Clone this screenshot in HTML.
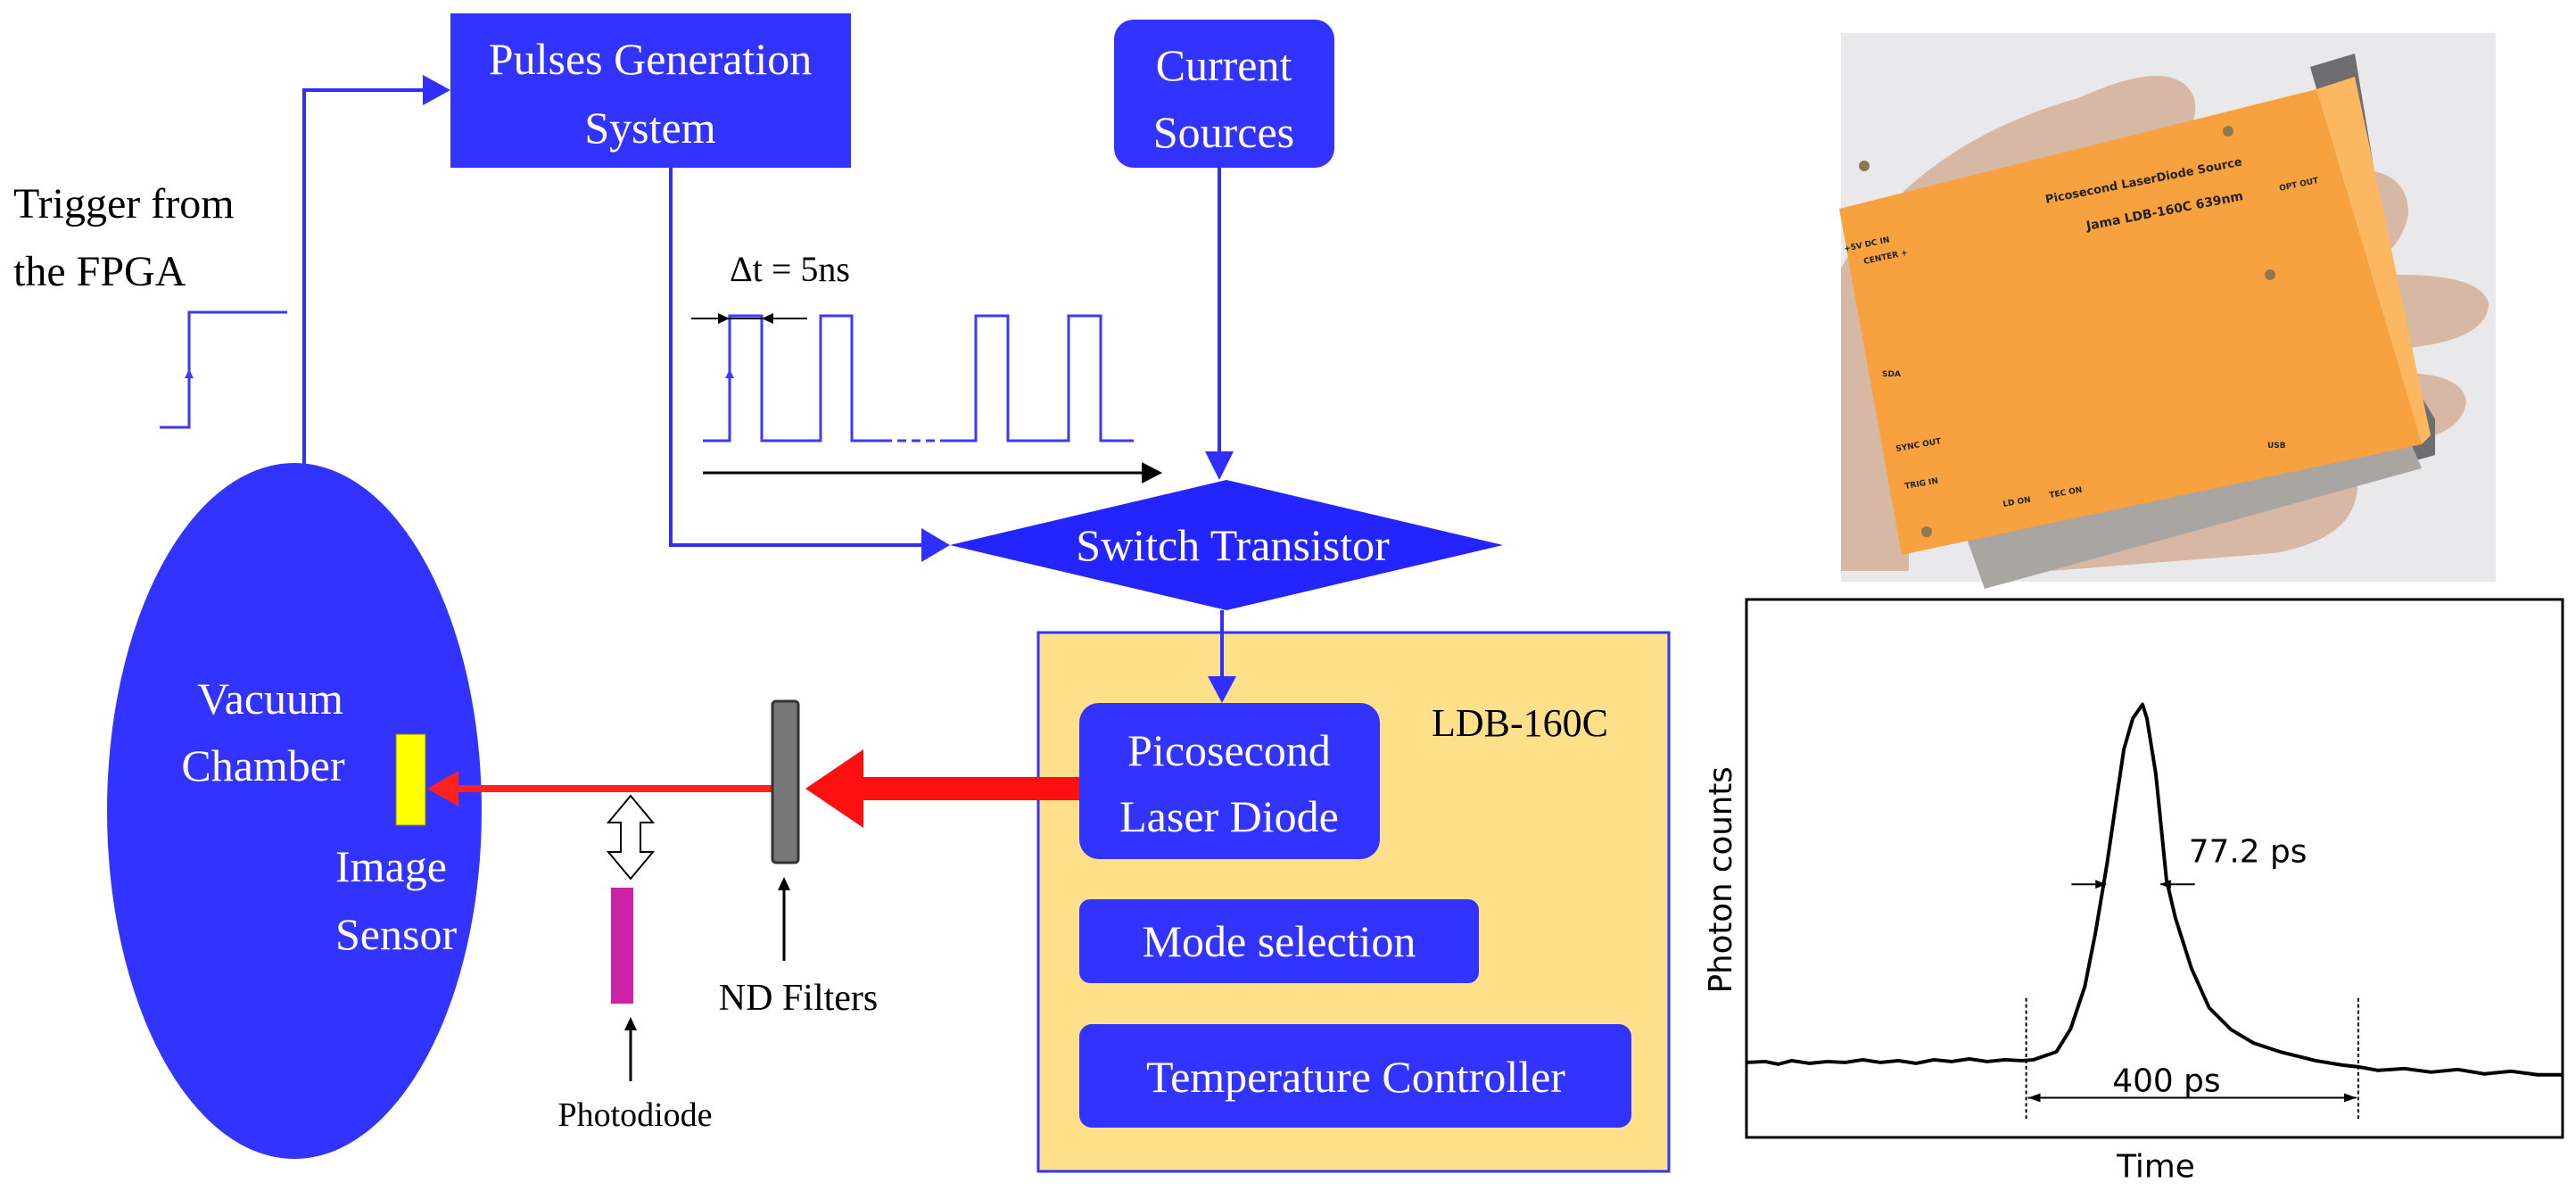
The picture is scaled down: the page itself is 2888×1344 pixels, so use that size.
<!DOCTYPE html>
<html><head><meta charset="utf-8"><style>
html,body{margin:0;padding:0;background:#fff;}
svg{display:block;}
.t{font-family:"Liberation Serif",serif;}
.s{font-family:"DejaVu Sans","Liberation Sans",sans-serif;}
</style></head><body>
<svg width="2888" height="1344" viewBox="0 0 2888 1344" xmlns="http://www.w3.org/2000/svg">
<polyline points="341,525 341,101 480,101" fill="none" stroke="#2f2fff" stroke-width="4"/>
<path d="M474,84 L505,101 L474,118 z" fill="#2f2fff"/>
<rect x="505" y="15" width="449" height="173" fill="#3333ff"/>
<text x="729" y="83" class="t" font-size="50" fill="#fff" text-anchor="middle">Pulses Generation</text>
<text x="729" y="160" class="t" font-size="50" fill="#fff" text-anchor="middle">System</text>
<rect x="1249" y="22" width="247" height="166" rx="22" fill="#3333ff"/>
<text x="1372" y="90" class="t" font-size="50" fill="#fff" text-anchor="middle">Current</text>
<text x="1372" y="165" class="t" font-size="50" fill="#fff" text-anchor="middle">Sources</text>
<text x="15" y="244" class="t" font-size="48" fill="#000">Trigger from</text>
<text x="15" y="320" class="t" font-size="48" fill="#000">the FPGA</text>
<polyline points="179,479 212,479 212,350 322,350" fill="none" stroke="#3a3aff" stroke-width="3"/>
<path d="M207,424 L212,414 L217,424z" fill="#3a3aff"/>
<polyline points="752,188 752,611 1035,611" fill="none" stroke="#2f2fff" stroke-width="4"/>
<path d="M1033,592 L1065,611 L1033,630 z" fill="#2f2fff"/>
<line x1="1367" y1="188" x2="1367" y2="508" stroke="#2f2fff" stroke-width="4"/>
<path d="M1351,506 L1367,538 L1383,506 z" fill="#2f2fff"/>
<polyline points="788,494 818,494 818,354 854,354 854,494 920,494 920,354 955,354 955,494 990,494" fill="none" stroke="#3a3aff" stroke-width="3"/>
<line x1="990" y1="494" x2="1055" y2="494" stroke="#3a3aff" stroke-width="3" stroke-dasharray="10,6"/>
<polyline points="1055,494 1094,494 1094,354 1130,354 1130,494 1198,494 1198,354 1234,354 1234,494 1271,494" fill="none" stroke="#3a3aff" stroke-width="3"/>
<path d="M813,424 L818,414 L823,424z" fill="#3a3aff"/>
<text x="818" y="315" class="t" font-size="40" fill="#000">Δt = 5ns</text>
<line x1="775" y1="357" x2="905" y2="357" stroke="#000" stroke-width="2"/>
<path d="M805,351 L818,357 L805,363z" fill="#000"/>
<path d="M867,351 L854,357 L867,363z" fill="#000"/>
<line x1="788" y1="530" x2="1285" y2="530" stroke="#000" stroke-width="3"/>
<path d="M1280,518 L1303,530 L1280,542 z" fill="#000"/>
<polygon points="1065,611 1375,538 1685,611 1375,684" fill="#2424ff"/>
<text x="1382" y="628" class="t" font-size="50" fill="#fff" text-anchor="middle">Switch Transistor</text>
<rect x="1164" y="709" width="707" height="604" fill="#ffe08a" stroke="#3333ff" stroke-width="3"/>
<text x="1704" y="825" class="t" font-size="44" fill="#000" text-anchor="middle">LDB-160C</text>
<line x1="1370" y1="684" x2="1370" y2="762" stroke="#2f2fff" stroke-width="4"/>
<path d="M1354,758 L1370,788 L1386,758 z" fill="#2f2fff"/>
<rect x="1210" y="788" width="337" height="175" rx="22" fill="#3333ff"/>
<text x="1378" y="858" class="t" font-size="50" fill="#fff" text-anchor="middle">Picosecond</text>
<text x="1378" y="932" class="t" font-size="50" fill="#fff" text-anchor="middle">Laser Diode</text>
<rect x="1210" y="1008" width="448" height="94" rx="12" fill="#3333ff"/>
<text x="1434" y="1072" class="t" font-size="50" fill="#fff" text-anchor="middle">Mode selection</text>
<rect x="1210" y="1148" width="619" height="116" rx="14" fill="#3333ff"/>
<text x="1520" y="1224" class="t" font-size="50" fill="#fff" text-anchor="middle">Temperature Controller</text>
<ellipse cx="330" cy="909" rx="210" ry="390" fill="#3333ff"/>
<text x="303" y="800" class="t" font-size="50" fill="#fff" text-anchor="middle">Vacuum</text>
<text x="295" y="875" class="t" font-size="50" fill="#fff" text-anchor="middle">Chamber</text>
<text x="376" y="988" class="t" font-size="50" fill="#fff">Image</text>
<text x="376" y="1064" class="t" font-size="50" fill="#fff">Sensor</text>
<rect x="444" y="823" width="33" height="102" fill="#ffff00" stroke="#888800" stroke-width="1"/>
<rect x="965" y="871" width="245" height="26" fill="#ff1010"/>
<path d="M968,840 L903,884 L968,928 z" fill="#ff1010"/>
<rect x="510" y="880" width="358" height="8" fill="#ff2020"/>
<path d="M514,864 L479,884 L514,904 z" fill="#ff2020"/>
<rect x="866" y="786" width="29" height="181" rx="4" fill="#777" stroke="#333" stroke-width="3"/>
<line x1="879" y1="1077" x2="879" y2="995" stroke="#000" stroke-width="3"/>
<path d="M872,998 L879,983 L886,998z" fill="#000"/>
<text x="895" y="1132" class="t" font-size="42" fill="#000" text-anchor="middle">ND Filters</text>
<path d="M707,892 L732,922 L718,922 L718,955 L732,955 L707,985 L682,955 L696,955 L696,922 L682,922 z" fill="#fff" stroke="#000" stroke-width="2"/>
<rect x="685" y="995" width="25" height="130" fill="#cc22aa"/>
<line x1="707" y1="1212" x2="707" y2="1152" stroke="#000" stroke-width="3"/>
<path d="M700,1155 L707,1140 L714,1155z" fill="#000"/>
<text x="712" y="1262" class="t" font-size="38" fill="#000" text-anchor="middle">Photodiode</text>

<rect x="2064" y="37" width="734" height="615" fill="#e9e9ec"/>
<g fill="#d7b8a4">
<path d="M2064,300 Q2150,160 2330,110 Q2440,60 2460,110 Q2470,150 2400,200 L2200,300 L2064,360z"/>
<path d="M2640,190 Q2700,190 2700,240 Q2690,290 2640,300z"/>
<path d="M2640,310 Q2780,300 2790,340 Q2790,380 2700,390 L2640,390z"/>
<path d="M2650,420 Q2760,410 2765,450 Q2760,490 2690,495 L2650,490z"/>
<path d="M2064,330 L2140,300 L2140,640 L2064,640z"/>
<path d="M2300,560 L2640,520 Q2660,600 2550,620 L2300,640z"/>
</g>
<polygon points="2590,75 2640,60 2700,420 2730,470 2730,510 2695,520 2680,500 2600,110" fill="#6e6e70"/>
<polygon points="2200,590 2700,490 2715,525 2225,660" fill="#a9a6a1"/>
<polygon points="2062,234 2597,100 2715,498 2132,622" fill="#f7a23e"/>
<polygon points="2597,100 2640,86 2725,488 2715,498" fill="#fbb860"/>
<g class="s" font-size="9" fill="#222" font-weight="bold">
<text x="2294" y="228" font-size="13" transform="rotate(-11 2294 228)">Picosecond LaserDiode Source</text>
<text x="2340" y="258" font-size="14" transform="rotate(-11 2340 258)">Jama  LDB-160C   639nm</text>
<text x="2068" y="282" transform="rotate(-12 2068 282)">+5V DC IN</text>
<text x="2090" y="296" transform="rotate(-12 2090 296)">CENTER +</text>
<text x="2556" y="214" transform="rotate(-12 2556 214)">OPT OUT</text>
<text x="2110" y="422">SDA</text>
<text x="2126" y="506" transform="rotate(-10 2126 506)">SYNC OUT</text>
<text x="2136" y="548" transform="rotate(-10 2136 548)">TRIG IN</text>
<text x="2246" y="568" transform="rotate(-10 2246 568)">LD ON</text>
<text x="2298" y="558" transform="rotate(-10 2298 558)">TEC ON</text>
<text x="2542" y="502">USB</text>
</g>
<g fill="#8a7a50"><circle cx="2090" cy="186" r="6"/><circle cx="2498" cy="147" r="6"/><circle cx="2545" cy="308" r="6"/><circle cx="2160" cy="596" r="6"/></g>

<g transform="translate(7.6,-2.2) scale(0.9956,0.9885)">
<rect x="1959" y="682" width="919" height="610" fill="#fff" stroke="#000" stroke-width="3"/>
<text transform="translate(1942 1000) rotate(-90)" class="s" font-size="36" fill="#000" text-anchor="middle">Photon counts</text>
<text x="2420" y="1337" class="s" font-size="36" fill="#000" text-anchor="middle">Time</text>
<polyline fill="none" stroke="#000" stroke-width="4" stroke-linejoin="round" points="1959,1207 1980,1206 1995,1209 2010,1205 2030,1208 2050,1206 2070,1207 2090,1204 2110,1207 2130,1205 2150,1208 2170,1204 2190,1206 2210,1203 2230,1206 2250,1204 2270,1205 2282,1204 2308,1195 2324,1169 2340,1121 2352,1060 2365,982 2375,913 2384,852 2394,817 2405,801 2410,817 2420,880 2432,1000 2442,1043 2460,1100 2480,1145 2505,1170 2530,1185 2560,1195 2600,1205 2630,1210 2648,1212 2670,1216 2700,1214 2730,1218 2760,1215 2790,1220 2820,1217 2850,1221 2878,1221"/>
<line x1="2274" y1="1134" x2="2274" y2="1273" stroke="#000" stroke-width="2" stroke-dasharray="4,3"/>
<line x1="2648" y1="1134" x2="2648" y2="1273" stroke="#000" stroke-width="2" stroke-dasharray="4,3"/>
<line x1="2276" y1="1247" x2="2646" y2="1247" stroke="#000" stroke-width="2"/>
<path d="M2290,1242 L2276,1247 L2290,1252z M2632,1242 L2646,1247 L2632,1252z" fill="#000"/>
<text x="2432" y="1240" class="s" font-size="36" fill="#000" text-anchor="middle">400 ps</text>
<line x1="2325" y1="1005" x2="2364" y2="1005" stroke="#000" stroke-width="2"/>
<path d="M2352,1000 L2364,1005 L2352,1010z" fill="#000"/>
<line x1="2425" y1="1005" x2="2464" y2="1005" stroke="#000" stroke-width="2"/>
<path d="M2437,1000 L2425,1005 L2437,1010z" fill="#000"/>
<text x="2457" y="980" class="s" font-size="36" fill="#000">77.2 ps</text>
</g>
</svg>
</body></html>
